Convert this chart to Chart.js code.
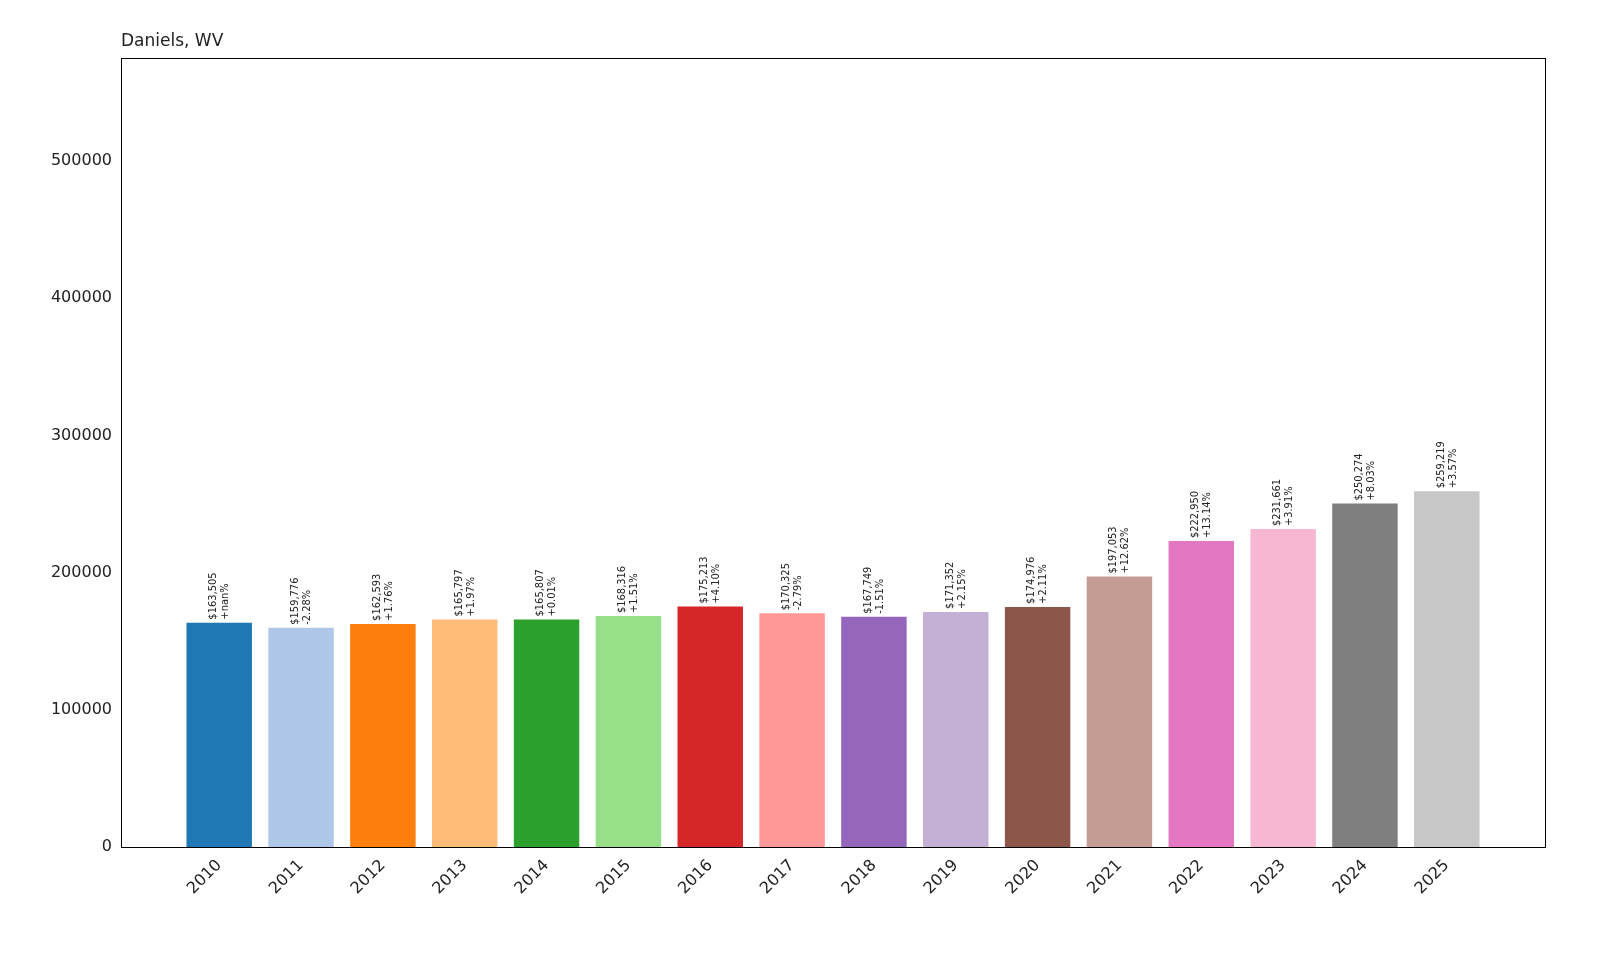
<!DOCTYPE html>
<html>
<head>
<meta charset="utf-8">
<script src="https://cdn.jsdelivr.net/npm/chart.js@4/dist/chart.umd.min.js"></script>
<style>
  html, body { margin: 0; padding: 0; background: #fff; overflow: hidden; }
  #wrap { width: 1600px; height: 960px; position: relative; }
</style>
</head>
<body>
<div id="wrap"><canvas id="chart"></canvas></div>
<script>
const years = [2010, 2011, 2012, 2013, 2014, 2015, 2016, 2017, 2018, 2019, 2020, 2021, 2022, 2023, 2024, 2025];
const values = [163505, 159776, 162593, 165797, 165807, 168316, 175213, 170325, 167749, 171352, 174976, 197053, 222950, 231661, 250274, 259219];
const changes = ["+nan%", "-2.28%", "+1.76%", "+1.97%", "+0.01%", "+1.51%", "+4.10%", "-2.79%", "-1.51%", "+2.15%", "+2.11%", "+12.62%", "+13.14%", "+3.91%", "+8.03%", "+3.57%"];
const colors = ["#1f77b4", "#aec7e8", "#ff7f0e", "#ffbb78", "#2ca02c", "#98df8a", "#d62728", "#ff9896",
                "#9467bd", "#c5b0d5", "#8c564b", "#c49c94", "#e377c2", "#f7b6d2", "#7f7f7f", "#c7c7c7"];
const yTicks = [0, 100000, 200000, 300000, 400000, 500000];

const FONT = "'DejaVu Sans', sans-serif";

// frame + bar labels drawn on top of the chart area
const annotate = {
    id: "annotate",
    afterDatasetsDraw(chart) {
        const ctx = chart.ctx;
        const a = chart.chartArea;
        const xs = chart.scales.x, ys = chart.scales.y;
        ctx.save();
        ctx.strokeStyle = "#000";
        ctx.lineWidth = 1;
        ctx.strokeRect(a.left + 0.5, a.top + 0.5, a.right - a.left, a.bottom - a.top);

        ctx.fillStyle = "#222";
        ctx.font = "11px 'DejaVu Sans Condensed', " + FONT;
        ctx.textAlign = "left";
        ctx.textBaseline = "middle";
        years.forEach((yr, i) => {
            const x = xs.getPixelForValue(yr);
            const y = ys.getPixelForValue(values[i]) - 3;
            const val = "$" + values[i].toLocaleString("en-US");
            ctx.save();
            ctx.translate(x, y);
            ctx.rotate(-Math.PI / 2);
            ctx.fillText(val, 0, -6);
            ctx.fillText(changes[i], 0, 6);
            ctx.restore();
        });

        ctx.font = "17px " + FONT;
        ctx.fillStyle = "#222";
        ctx.textBaseline = "bottom";
        ctx.fillText("Daniels, WV", a.left, a.top - 8);
        ctx.restore();
    }
};

new Chart(document.getElementById("chart"), {
    type: "bar",
    data: {
        datasets: [{
            data: years.map((y, i) => ({ x: y, y: values[i] })),
            backgroundColor: colors,
            barPercentage: 0.8,
            categoryPercentage: 1.0
        }]
    },
    options: {
        responsive: true,
        maintainAspectRatio: false,
        animation: false,
        layout: { padding: { left: 0, right: 55, top: 58, bottom: 0 } },
        plugins: { legend: { display: false }, tooltip: { enabled: false } },
        scales: {
            x: {
                type: "linear",
                offset: false,
                min: 2008.8,
                max: 2026.2,
                afterBuildTicks: (s) => { s.ticks = years.map(v => ({ value: v })); },
                afterFit: (s) => { s.height = 113; },
                grid: { display: false, drawTicks: true, tickLength: 6, color: "#000" },
                border: { display: false },
                ticks: {
                    color: "#222",
                    font: { family: FONT, size: 16 },
                    minRotation: 45,
                    maxRotation: 45,
                    callback: (v) => String(v)
                }
            },
            y: {
                min: 0,
                max: 575000,
                afterBuildTicks: (s) => { s.ticks = yTicks.map(v => ({ value: v })); },
                afterFit: (s) => { s.width = 121; },
                grid: { display: false, drawTicks: true, tickLength: 6, color: "#000" },
                border: { display: false },
                ticks: {
                    color: "#222",
                    font: { family: FONT, size: 16 },
                    callback: (v) => String(v)
                }
            }
        }
    },
    plugins: [annotate]
});
</script>
</body>
</html>
